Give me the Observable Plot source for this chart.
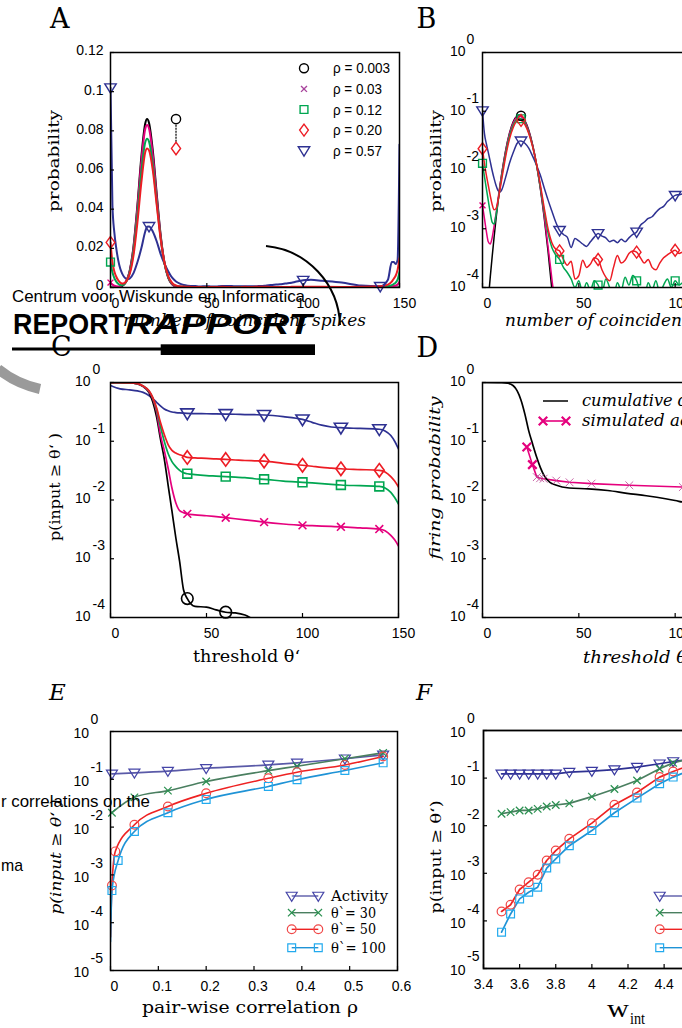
<!DOCTYPE html>
<html><head><meta charset="utf-8">
<script src="https://cdn.jsdelivr.net/npm/d3@7"></script>
<script src="https://cdn.jsdelivr.net/npm/@observablehq/plot@0.6"></script>
<style>
html,body{margin:0;padding:0;background:#fff;}
#root{position:relative;width:682px;height:1028px;overflow:hidden;background:#fff;}
</style></head><body><div id="root"></div>
<script>
// ---------------- DATA ----------------
// Panels A & B: distribution of the number of coincident spikes
const spikeCounts = [0,1,2,3,4,5,6,7,8,9,10,12,14,16,18,19,20,22,24,26,28,30,32,34,36,38,
 40,42,44,46,48,50,52,54,56,58,60,62,64,66,68,70,72,74,76,78,80,82,84,86,88,90,92,94,96,98,100,102,104,
 110,120,130,140,144,146,147,148,149,150];
const rhoLabels = ["ρ = 0.003","ρ = 0.03","ρ = 0.12","ρ = 0.20","ρ = 0.57"];
const pRho003 = [0.0000032,0.0000089,0.000024,0.000061,0.000147,0.00033,0.00071,0.00145,0.0028,0.0051,0.0087,0.0214,0.0424,0.0666,0.0836,0.0860,0.0840,0.0695,0.0476,0.0270,0.0127,0.0049,0.00157,0.00042,0.000093,0.000017,
 0,0,0,0,0,0,0,0,0,0,0,0,0,0,0,0,0,0,0,0,0,0,0,0,0,0,0,0,0,0,0,0,0,
 0,0,0,0,0,0,0,0,0,0];
const pRho03 = [0.0025,0.0015,0.0009,0.0006,0.00055,0.0007,0.0011,0.0018,0.0031,0.0053,0.0086,0.0208,0.0410,0.0643,0.0808,0.0830,0.0812,0.0672,0.0462,0.0264,0.0126,0.0050,0.0017,0.00050,0.00014,0.00003,
 0,0,0,0,0,0,0,0,0,0,0,0,0,0,0,0,0,0,0,0,0,0,0,0,0,0,0,0,0,0,0,0,0,
 0,0,0,0.0001,0.0003,0.0006,0.0008,0.001,0.0015,0.003];
const pRho12 = [0.013,0.0078,0.0048,0.0030,0.0019,0.0013,0.0012,0.0017,0.0028,0.0048,0.0079,0.0190,0.0375,0.0590,0.0740,0.0760,0.0745,0.0625,0.0435,0.0255,0.0125,0.0052,0.0020,0.00085,0.00048,0.00036,
 0.00030,0.00022,0.00018,0.00014,0.00010,0.00013,0.00008,0.00012,0.00009,0.00013,0.00011,0.00008,0.00014,0.00010,0.00007,0.00012,0.00009,0.00015,0.00011,0.00016,0.00013,0.00008,0.00007,0.00012,0.00009,0.00013,0.00008,0.00011,0.00014,0.00010,0.00013,0.00011,0.00012,
 0.00010,0.00011,0.00012,0.0002,0.0006,0.0012,0.0018,0.0025,0.004,0.008];
const pRho20 = [0.023,0.013,0.0082,0.0055,0.0037,0.0026,0.0021,0.0022,0.0029,0.0045,0.0070,0.0168,0.0335,0.0535,0.0690,0.0710,0.0700,0.0595,0.0420,0.0250,0.0128,0.0057,0.0023,0.0010,0.00058,0.00045,
 0.00042,0.00030,0.00024,0.00028,0.00014,0.00016,0.00029,0.00022,0.00025,0.00032,0.00030,0.00020,0.00015,0.00013,0.00022,0.00035,0.00026,0.00029,0.00038,0.00042,0.00040,0.00032,0.00026,0.00030,0.00022,0.00020,0.00026,0.00032,0.00036,0.00040,0.00043,0.00038,0.00040,
 0.00035,0.00030,0.00040,0.0006,0.0015,0.003,0.0045,0.006,0.009,0.015];
const pRho57 = [0.102,0.042,0.028,0.020,0.014,0.0098,0.0072,0.0055,0.0045,0.0042,0.0046,0.0075,0.0130,0.0200,0.0285,0.0310,0.0312,0.0285,0.0235,0.0172,0.0122,0.0082,0.0050,0.0031,0.0020,0.0013,
 0.00094,0.00080,0.00072,0.00048,0.00068,0.00062,0.00055,0.00050,0.00060,0.00072,0.00083,0.00075,0.00070,0.00060,0.00064,0.00058,0.00066,0.00060,0.00070,0.00080,0.00088,0.00115,0.0013,0.0015,0.0016,0.0019,0.0022,0.0024,0.0029,0.0033,0.0037,0.0038,0.0039,
 0.0034,0.0025,0.0010,0.0006,0.004,0.013,0.013,0.012,0.014,0.073];
const markersA = [[],[0],[0],[0],[0,20,100,140]];
const markersB = [[20],[0],[0,20,40,60,80,100],[0,20,40,60,80,100],[0,20,40,60,80,100]];
const peakNoteX = 34;

// Panel C: cumulative p(input >= theta')
const thetaC = [0,5,10,14,17,20,22,24,26,28,30,32,34,36,38,40,44,50,55,60,65,70,75,80,90,100,105,110,115,120,130,140,143,146,148,150];
const cRho003 = [0.99,0.99,0.985,0.95,0.85,0.68,0.47,0.26,0.11,0.05,0.018,0.0065,0.0023,0.0009,0.0003,0.00021,0.000155,0.00015,0.000135,0.000123,0.00012,0.00011,0.00009,null,null,null,null,null,null,null,null,null,null,null,null,null];
const cRho03 = [0.99,0.99,0.985,0.955,0.86,0.70,0.53,0.32,0.13,0.07,0.035,0.016,0.009,0.0066,0.0061,0.0058,0.0056,0.0054,0.0052,0.0050,0.0048,0.0046,0.0044,0.0042,0.0039,0.0037,0.00365,0.0036,0.00355,0.0035,0.00335,0.0032,0.0030,0.0025,0.0021,0.00165];
const cRho12 = [0.99,0.99,0.985,0.96,0.87,0.72,0.55,0.35,0.18,0.10,0.062,0.045,0.037,0.032,0.029,0.028,0.027,0.026,0.0255,0.025,0.0245,0.024,0.023,0.0225,0.021,0.020,0.0195,0.019,0.0185,0.018,0.0175,0.017,0.016,0.0135,0.011,0.0085];
const cRho20 = [0.99,0.99,0.985,0.96,0.87,0.73,0.56,0.37,0.21,0.13,0.088,0.070,0.063,0.059,0.056,0.053,0.052,0.051,0.050,0.049,0.048,0.047,0.0465,0.046,0.042,0.039,0.0375,0.036,0.035,0.034,0.033,0.032,0.030,0.025,0.021,0.0166];
const cRho57 = [0.89,0.78,0.75,0.72,0.68,0.60,0.53,0.46,0.40,0.355,0.33,0.315,0.308,0.303,0.30,0.298,0.296,0.294,0.292,0.29,0.288,0.285,0.283,0.28,0.262,0.235,0.21,0.188,0.175,0.17,0.165,0.16,0.15,0.125,0.10,0.074];
const markersC = [[40,60],[40,60,80,100,120,140],[40,60,80,100,120,140],[40,60,80,100,120,140],[40,60,80,100,120,140]];

// Panel D: firing probability
const thetaDcum = [0,10,13,16,18,20,22,24,26,28,30,32,35,38,45,55,65,75,85,95,100,104,110,120,130,140,150];
const dCumulative = [1.0,0.99,0.97,0.88,0.72,0.50,0.29,0.15,0.09,0.055,0.036,0.026,0.020,0.018,0.016,0.0155,0.0145,0.013,0.0118,0.0105,0.0098,0.0092,0.0085,0.0075,0.0065,0.005,0.003];
const thetaDsim = [23,25.9,28.2,29.9,31.7,38.3,45.2,56.6,76.2,104,150];
const dSimulated = [0.080,0.040,0.0245,0.0235,0.023,0.0214,0.020,0.019,0.0178,0.0166,0.0155];

// Panel E: vs pair-wise correlation
const rhoE = [0,0.003,0.01,0.016,0.05,0.12,0.2,0.33,0.39,0.49,0.57];
const eActivity = [null,0.130,null,null,0.136,0.148,0.17,0.20,0.221,0.269,0.325];
const eTheta30 = [null,0.020,null,null,0.042,0.058,0.090,0.152,0.188,0.27,0.358];
const eTheta50 = [0.00005,0.0006,0.0031,null,0.0112,0.027,0.051,0.105,0.141,0.20,0.30];
const eTheta100 = [0.00004,0.00047,null,0.0020,0.0081,0.020,0.038,0.071,0.098,0.153,0.221];

// Panel F: vs w_int
const wInt = [3.5,3.55,3.6,3.65,3.7,3.75,3.8,3.875,4.0,4.125,4.25,4.375,4.45,4.55];
const fActivity = [0.123,0.123,0.123,0.123,0.123,0.123,0.123,0.133,0.140,0.151,0.170,0.20,0.223,0.25];
const fTheta30 = [0.0178,0.0193,0.0209,0.0209,0.0226,0.0253,0.0272,0.0295,0.0407,0.059,0.089,0.157,0.209,0.26];
const fTheta50 = [0.000158,0.000218,0.000457,0.00065,0.00093,0.00186,0.0030,0.0053,0.0113,0.0275,0.050,0.105,0.138,0.19];
const fTheta100 = [0.000058,0.00014,0.00029,0.00040,0.00051,0.00129,0.0020,0.0038,0.0079,0.0187,0.038,0.076,0.105,0.15];
const legendEF = ["Activity","θ`= 30","θ`= 50","θ`= 100"];

// tick values and tick labels
const ticksSpikes = [0,50,100,150];
const ticksProb = [0,0.02,0.04,0.06,0.08,0.1,0.12];
const decades4 = [1,0.1,0.01,0.001,0.0001];
const decades5 = [1,0.1,0.01,0.001,0.0001,0.00001];
const exponentLabels = ["0","-1","-2","-3","-4","-5"];
const ticksRho = [0,0.1,0.2,0.3,0.4,0.5,0.6];
const ticksW = [3.4,3.6,3.8,4,4.2,4.4,4.6,4.8,5];

// ---------------- STYLE ----------------
const SERIF = "'DejaVu Serif','Liberation Serif',serif";
const SANS = "'Liberation Sans',Arial,sans-serif";
const COL = ["#000000","#e5007d","#00a651","#ed1c24","#2e3192"];
const SYMS = ["circle","times","square","diamond","triDown"];
const SYM = {
  circle:{draw(c,s){const r=Math.sqrt(s/Math.PI);c.moveTo(r,0);c.arc(0,0,r,0,2*Math.PI);}},
  times:{draw(c,s){const r=Math.sqrt(s/Math.PI)*0.85;c.moveTo(-r,-r);c.lineTo(r,r);c.moveTo(-r,r);c.lineTo(r,-r);}},
  square:{draw(c,s){const r=Math.sqrt(s/Math.PI)*0.85;c.rect(-r,-r,2*r,2*r);}},
  diamond:{draw(c,s){const r=Math.sqrt(s/Math.PI);c.moveTo(0,-1.3*r);c.lineTo(0.95*r,0);c.lineTo(0,1.3*r);c.lineTo(-0.95*r,0);c.closePath();}},
  triDown:{draw(c,s){const r=Math.sqrt(s/Math.PI);c.moveTo(-1.1*r,-0.75*r);c.lineTo(1.1*r,-0.75*r);c.lineTo(0,1.05*r);c.closePath();}}
};
const root = document.getElementById("root");
const baseStyle = {background:"transparent",fontFamily:SANS,fontSize:"14px",color:"#000",overflow:"visible"};
function mount(svg,left,top){svg.style.position="absolute";svg.style.left=left+"px";svg.style.top=top+"px";root.appendChild(svg);}
function tickMarks(xt,yt){
  return [
    Plot.axisX({ticks:xt,tickSize:4,dy:-4,tickFormat:()=>"",label:null,strokeWidth:1.2}),
    Plot.axisY({ticks:yt,tickSize:4,dx:4,tickFormat:()=>"",label:null,strokeWidth:1.2})
  ];
}
function xLabels(xt,fmt,dx){return Plot.axisX({ticks:xt,tickSize:0,tickPadding:11,dx:dx,tickFormat:fmt,label:null,fontSize:14,fill:"#000"});}
function logLabels(decs,dx10,dxExp,dy10,dyExp){
  const rows = decs.map((d,i)=>({d,e:exponentLabels[i]}));
  return [
    Plot.text(rows,{y:"d",frameAnchor:"left",text:()=>"10",textAnchor:"end",dx:dx10,dy:dy10,fontSize:14,fill:"#000"}),
    Plot.text(rows,{y:"d",frameAnchor:"left",text:"e",textAnchor:"start",dx:dxExp,dy:dyExp,fontSize:14,fill:"#000"})
  ];
}
const fmtNum = d=>String(+(+d).toFixed(2));

// ---------------- PANEL A ----------------
const abVals = [pRho003,pRho03,pRho12,pRho20,pRho57];
const abRows = abVals.map(vals=>spikeCounts.map((x,j)=>({x,v:vals[j]})));
const drawOrder = [4,0,1,2,3];
const rA = {circle:4.5,times:3.5,square:4.6,diamond:4.6,triDown:5.2};
{
  const marks=[];
  for(const i of drawOrder) marks.push(Plot.line(abRows[i],{x:"x",y:"v",stroke:COL[i],strokeWidth:2,curve:"monotone-x",clip:true}));
  for(const i of drawOrder) marks.push(Plot.dot(abRows[i].filter(r=>markersA[i].includes(r.x)),{x:"x",y:"v",symbol:SYM[SYMS[i]],r:rA[SYMS[i]],stroke:COL[i],fill:"none",strokeWidth:1.4}));
  const note=[{x:peakNoteX,v:d3.max(pRho003)},{x:peakNoteX,v:d3.max(pRho20)}];
  marks.push(Plot.line(note,{x:"x",y:"v",stroke:"#000",strokeWidth:1.2,strokeDasharray:"1.2,1.8"}));
  marks.push(Plot.dot([note[0]],{x:"x",y:"v",symbol:SYM.circle,r:4.6,stroke:COL[0],fill:"#fff",strokeWidth:1.4}));
  marks.push(Plot.dot([note[1]],{x:"x",y:"v",symbol:SYM.diamond,r:4.8,stroke:COL[3],fill:"#fff",strokeWidth:1.4}));
  marks.push(Plot.frame({stroke:"#000",strokeWidth:1.5}));
  marks.push(...tickMarks(ticksSpikes,ticksProb));
  marks.push(xLabels(ticksSpikes,fmtNum,5));
  marks.push(Plot.axisY({ticks:ticksProb,tickSize:0,tickPadding:7,dy:-1.5,tickFormat:fmtNum,label:null,fontSize:14,fill:"#000"}));
  mount(Plot.plot({width:420,height:317,marginLeft:110,marginTop:52,marginRight:21,marginBottom:30,style:baseStyle,
    x:{domain:[0,150],axis:null},y:{domain:[0,0.12],axis:null},marks}),0,0);
}
// ---------------- PANEL B ----------------
{
  const marks=[];
  for(const i of drawOrder) marks.push(Plot.line(abRows[i],{x:"x",y:d=>Math.max(d.v,1e-7),stroke:COL[i],strokeWidth:1.5,curve:"monotone-x",clip:true}));
  for(const i of drawOrder) marks.push(Plot.dot(abRows[i].filter(r=>markersB[i].includes(r.x)&&r.v>=1e-4),{x:"x",y:"v",symbol:SYM[SYMS[i]],r:rA[SYMS[i]],stroke:COL[i],fill:"none",strokeWidth:1.4}));
  marks.push(Plot.frame({stroke:"#000",strokeWidth:1.5}));
  marks.push(...tickMarks(ticksSpikes,decades4));
  marks.push(xLabels(ticksSpikes,fmtNum,5));
  marks.push(...logLabels(decades4,-17,-16,-1,-13));
  mount(Plot.plot({width:391,height:317,marginLeft:82,marginTop:52,marginRight:20,marginBottom:30,style:baseStyle,
    x:{domain:[0,150],axis:null},y:{type:"log",domain:[1e-4,1],axis:null},marks}),400,0);
}
// ---------------- PANEL C ----------------
{
  const cVals=[cRho003,cRho03,cRho12,cRho20,cRho57];
  const rows=cVals.map(vals=>thetaC.map((x,j)=>({x,v:vals[j]})).filter(d=>d.v!=null));
  const rC={circle:5.8,times:4.6,square:5.2,diamond:5.2,triDown:6};
  const marks=[];
  for(const i of drawOrder) marks.push(Plot.line(rows[i],{x:"x",y:"v",stroke:COL[i],strokeWidth:1.7,curve:"monotone-x",clip:true}));
  for(const i of drawOrder) marks.push(Plot.dot(rows[i].filter(r=>markersC[i].includes(r.x)),{x:"x",y:"v",symbol:SYM[SYMS[i]],r:rC[SYMS[i]],stroke:COL[i],fill:"none",strokeWidth:1.6}));
  marks.push(Plot.frame({stroke:"#000",strokeWidth:1.5}));
  marks.push(...tickMarks(ticksSpikes,decades4));
  marks.push(xLabels(ticksSpikes,fmtNum,5));
  marks.push(...logLabels(decades4,-20,-18,-1,-13));
  mount(Plot.plot({width:420,height:317,marginLeft:110,marginTop:52,marginRight:22,marginBottom:30,style:baseStyle,
    x:{domain:[0,150],axis:null},y:{type:"log",domain:[1e-4,1],axis:null},marks}),0,330);
}
// ---------------- PANEL D ----------------
{
  const cum=thetaDcum.map((x,j)=>({x,v:dCumulative[j]}));
  const sim=thetaDsim.map((x,j)=>({x,v:dSimulated[j],k:j}));
  const marks=[
    Plot.line(sim,{x:"x",y:"v",stroke:COL[1],strokeWidth:1.6,curve:"linear",clip:true}),
    Plot.line(cum,{x:"x",y:"v",stroke:"#000",strokeWidth:1.7,curve:"monotone-x",clip:true}),
    Plot.dot(sim.filter(d=>d.k<2),{x:"x",y:"v",symbol:SYM.times,r:5,stroke:COL[1],strokeWidth:2.2}),
    Plot.dot(sim.filter(d=>d.k>=2),{x:"x",y:"v",symbol:SYM.times,r:4.6,stroke:"#c0509a",strokeWidth:1,strokeOpacity:0.85}),
    Plot.frame({stroke:"#000",strokeWidth:1.5}),
    ...tickMarks(ticksSpikes,decades4),
    xLabels(ticksSpikes,fmtNum,5),
    ...logLabels(decades4,-17,-16,-1,-13)
  ];
  mount(Plot.plot({width:391,height:317,marginLeft:82,marginTop:52,marginRight:20,marginBottom:30,style:baseStyle,
    x:{domain:[0,150],axis:null},y:{type:"log",domain:[1e-4,1],axis:null},marks}),400,330);
}
// ---------------- PANEL E & F ----------------
const efLine = ["#5a5aa8","#4a7f60","#ee2222","#1f93d6"];
const efMark = ["#4646a8","#2a9050","#f04848","#22aaee"];
const efSym = ["triDown","times","circle","square"];
const efR = {triDown:5,times:4.4,circle:4.4,square:4.6};
{
  const vals=[eActivity,eTheta30,eTheta50,eTheta100];
  const rows=vals.map(v=>rhoE.map((x,j)=>({x,v:v[j]})).filter(d=>d.v!=null));
  const marks=[];
  rows.forEach((r,i)=>marks.push(Plot.line(r,{x:"x",y:"v",stroke:efLine[i],strokeWidth:1.6,curve:"monotone-x",clip:true})));
  rows.forEach((r,i)=>marks.push(Plot.dot(r.filter(d=>d.x>0),{x:"x",y:"v",symbol:SYM[efSym[i]],r:efR[efSym[i]],stroke:efMark[i],fill:"none",strokeWidth:1.2})));
  marks.push(Plot.frame({stroke:"#000",strokeWidth:1.5}));
  marks.push(...tickMarks(ticksRho,decades5));
  marks.push(xLabels(ticksRho,d=>String(d),4));
  marks.push(...logLabels(decades5,-21.5,-20,2.5,-11.5));
  mount(Plot.plot({width:420,height:320,marginLeft:110,marginTop:51,marginRight:23,marginBottom:30,style:baseStyle,
    x:{domain:[0,0.6],axis:null},y:{type:"log",domain:[1e-5,1],axis:null},marks}),0,680);
}
{
  const vals=[fActivity,fTheta30,fTheta50,fTheta100];
  const fCol=["#2e3192","#4a7f60","#ee2222","#1f93d6"];
  const rows=vals.map(v=>wInt.map((x,j)=>({x,v:v[j]})));
  const marks=[];
  rows.forEach((r,i)=>marks.push(Plot.line(r,{x:"x",y:"v",stroke:fCol[i],strokeWidth:1.7,curve:"linear",clip:true})));
  rows.forEach((r,i)=>marks.push(Plot.dot(r,{x:"x",y:"v",symbol:SYM[efSym[i]],r:efR[efSym[i]],stroke:i===0?"#3a3aa0":efMark[i],fill:"none",strokeWidth:1.2})));
  marks.push(Plot.frame({stroke:"#000",strokeWidth:1.8}));
  marks.push(...tickMarks(ticksW,decades5));
  marks.push(xLabels(ticksW,d=>String(d),0));
  marks.push(...logLabels(decades5,-18,-16.5,2.5,-11.5));
  mount(Plot.plot({width:392,height:318,marginLeft:83,marginTop:50,marginRight:20,marginBottom:30,style:baseStyle,
    x:{domain:[3.4,5.0],axis:null},y:{type:"log",domain:[1e-5,1],axis:null},marks}),400,680);
}

// ---------------- OVERLAY: labels, titles, legends, logo ----------------
const ov = d3.select(root).append("svg").attr("width",682).attr("height",1028)
  .style("position","absolute").style("left","0px").style("top","0px").style("overflow","hidden");
function T(o){
  const t=ov.append("text").text(o.t).attr("font-family",o.f||SERIF).attr("font-size",o.s||16)
    .attr("font-style",o.i?"italic":"normal").attr("font-weight",o.b?"bold":"normal").attr("fill",o.c||"#000");
  if(o.len){t.attr("textLength",o.len).attr("lengthAdjust","spacingAndGlyphs");}
  if(o.rot){t.attr("text-anchor","middle").attr("transform",`translate(${o.x},${o.y}) rotate(-90)`);}
  else{t.attr("x",o.x).attr("y",o.y).attr("text-anchor",o.a||"start");}
  return t;
}
function S(sym,x,y,r,stroke,sw){
  ov.append("path").attr("d",d3.symbol().type(SYM[sym]).size(Math.PI*r*r)()).attr("transform",`translate(${x},${y})`)
    .attr("fill","none").attr("stroke",stroke).attr("stroke-width",sw||1.3);
}
function L(x1,y1,x2,y2,stroke,w){ov.append("line").attr("x1",x1).attr("y1",y1).attr("x2",x2).attr("y2",y2).attr("stroke",stroke).attr("stroke-width",w);}

// panel letters
T({t:"A",x:50,y:27.5,s:27});
T({t:"B",x:416.5,y:27.5,s:27});
T({t:"D",x:416.5,y:356.5,s:27});
T({t:"E",x:49,y:700,s:23,i:true});
T({t:"F",x:416,y:700,s:23,i:true});

// axis titles
T({t:"probability",x:59,y:161,s:15,rot:true,len:102});
T({t:"probability",x:441,y:161,s:15,rot:true,len:102});
T({t:"number of coincident spikes",x:123,y:326,s:16,i:true,len:243});
T({t:"number of coincident spikes",x:505,y:326,s:16,i:true,len:243});
T({t:"p(input ≥ θ‘ )",x:60,y:487,s:15,rot:true,len:108});
T({t:"threshold  θ‘",x:193,y:662,s:16,len:107});
T({t:"firing probability",x:440,y:478,s:15,i:true,rot:true,len:163});
T({t:"threshold  θ‘",x:583,y:663,s:16,i:true,len:110});
T({t:"p(input ≥ θ‘ )",x:61,y:857,s:15,i:true,rot:true,len:115});
T({t:"pair-wise correlation ρ",x:142,y:1013,s:16,len:216});
T({t:"p(input ≥ θ‘)",x:441,y:857,s:15,rot:true,len:113});
T({t:"w",x:607,y:1016.5,s:25,f:"'Liberation Serif',serif",len:22});
T({t:"int",x:630,y:1023.5,s:16,f:"'Liberation Serif',serif",len:15});

// legend A
rhoLabels.forEach((lab,i)=>{
  const y=68.3+i*20.6;
  S(SYMS[i],304,y,rA[SYMS[i]],i===1?"#a8449c":COL[i],1.4);
  T({t:lab,x:333,y:y+5,s:14,f:SANS,len:i===0?57:49});
});
// legend D
L(543,401,568,401,"#000",1.5);
T({t:"cumulative distribution",x:582,y:405.5,s:16,i:true,len:192});
L(543,421,566,421,COL[1],1.6);
S("times",543,421,5,COL[1],2.2); S("times",566,421,5,COL[1],2.2);
T({t:"simulated activity",x:582,y:426,s:16,i:true,len:150});
// legends E and F
const legY=[896,912.7,929.3,947.7];
const legLen=[57,45,45,55];
legendEF.forEach((lab,i)=>{
  const y=legY[i];
  L(291.7,y,318.3,y,efLine[i],1.4); S(efSym[i],291.7,y,efR[efSym[i]],efMark[i],1.2); S(efSym[i],318.3,y,efR[efSym[i]],efMark[i],1.2);
  T({t:lab,x:331,y:y+5,s:15,len:legLen[i]});
  L(659.7,y,686.3,y,efLine[i],1.4); S(efSym[i],659.7,y,efR[efSym[i]],efMark[i],1.2);
  T({t:lab,x:699,y:y+5,s:15,len:legLen[i]});
});

// CWI report overlay
ov.append("path").attr("d","M266,246 A82,82 0 0 1 340,325").attr("fill","none").attr("stroke","#000").attr("stroke-width",2);
ov.append("path").attr("d","M-2,369 A100,100 0 0 0 40,389").attr("fill","none").attr("stroke","#9a9a9a").attr("stroke-width",10);
T({t:"Centrum voor Wiskunde en Informatica",x:12,y:302,s:17,f:SANS,len:293});
T({t:"REPORT",x:13,y:333.5,s:30,f:SANS,b:true,len:112});
T({t:"RAPPORT",x:125,y:333.5,s:30,f:SANS,b:true,i:true,len:187});
L(12,349,161,349,"#000",3);
ov.append("rect").attr("x",160.7).attr("y",344.3).attr("width",154.3).attr("height",10.7).attr("fill","#000");
T({t:"C",x:51,y:355.5,s:27});
T({t:"r correlations on the",x:1,y:807,s:17,f:SANS,len:149});
T({t:"ma",x:1,y:870.5,s:17,f:SANS,len:22});
</script></body></html>
